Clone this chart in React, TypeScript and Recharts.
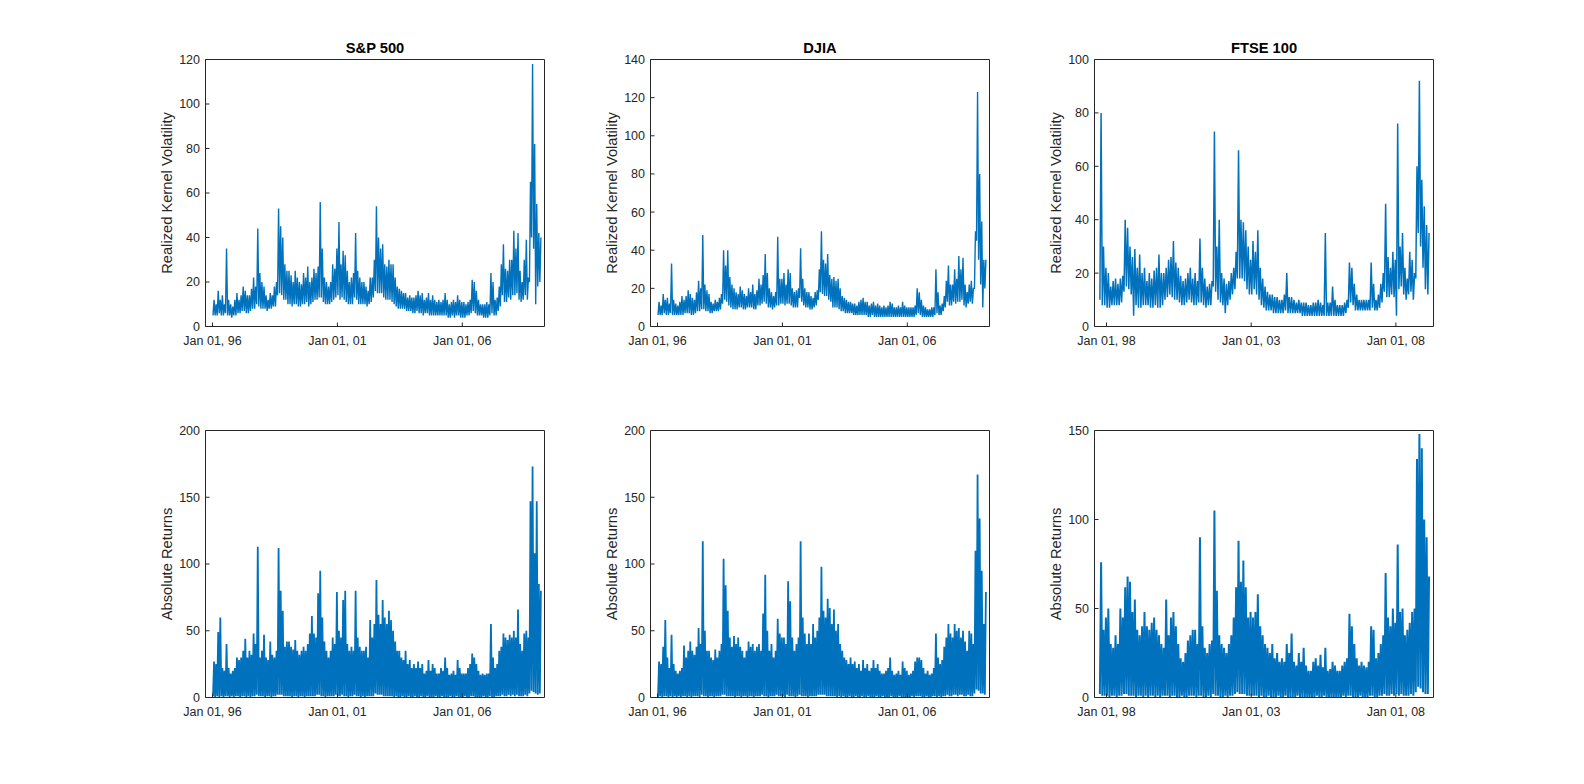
import React from 'react'
import { LineChart, Line, XAxis, YAxis } from 'recharts'

// Monthly readings off the figure: "HI" is the top of the trace in that month,
// "LO" the bottom of the band. Drawn as a lo/hi zig-zag to mimic the daily noise.

// ---- S&P 500, Jan 1996 .. Feb 2009 ----
const SP_RK_HI = [
    12, 10, 16, 12, 14, 10, 35, 12, 10, 9, 12, 15,
    12, 14, 18, 16, 14, 14, 17, 22, 18, 44, 24, 20,
    18, 14, 12, 15, 14, 18, 20, 53, 45, 40, 28, 25,
    25, 23, 20, 25, 22, 20, 19, 24, 22, 27, 20, 22,
    26, 24, 27, 56, 35, 22, 20, 18, 20, 28, 26, 35,
    47, 28, 34, 32, 25, 20, 22, 24, 42, 25, 22, 20,
    20, 18, 16, 22, 22, 30, 54, 40, 35, 37, 28, 27,
    30, 28, 28, 22, 18, 17, 16, 15, 15, 13, 14, 13,
    13, 14, 16, 14, 15, 12, 13, 15, 12, 14, 12, 11,
    12, 11, 12, 15, 12, 10, 11, 12, 11, 14, 12, 11,
    11, 10, 11, 12, 21, 20, 16, 12, 10, 10, 10, 11,
    10, 24, 20, 12, 13, 18, 28, 37, 26, 25, 30, 30,
    43, 35, 42, 25, 20, 30, 39, 22, 65, 118, 82, 55,
    42, 40,
]
const SP_RK_LO = [
    5, 5, 5, 6, 5, 5, 6, 5, 5, 4, 5, 5,
    6, 6, 7, 7, 6, 6, 7, 8, 8, 10, 9, 8,
    8, 8, 7, 8, 8, 9, 9, 14, 15, 14, 12, 12,
    10, 10, 9, 10, 10, 9, 9, 10, 10, 11, 9, 10,
    11, 12, 12, 13, 13, 11, 10, 10, 10, 11, 12, 13,
    14, 12, 13, 12, 11, 10, 10, 10, 13, 12, 10, 10,
    10, 10, 9, 10, 11, 13, 16, 15, 15, 15, 13, 12,
    12, 12, 11, 10, 9, 8, 8, 8, 8, 7, 7, 7,
    6, 6, 7, 6, 6, 5, 6, 6, 5, 5, 5, 5,
    5, 5, 5, 5, 5, 4, 4, 5, 4, 5, 5, 4,
    4, 4, 5, 5, 6, 7, 6, 5, 5, 5, 4, 4,
    4, 5, 6, 5, 5, 7, 9, 14, 11, 11, 13, 12,
    14, 14, 15, 12, 11, 12, 14, 12, 20, 40, 35, 10,
    18, 20,
]
const SP_AR_HI = [
    27, 25, 49, 60, 22, 20, 40, 22, 18, 20, 22, 30,
    28, 30, 35, 44, 30, 35, 32, 48, 40, 113, 30, 35,
    47, 30, 28, 42, 32, 30, 35, 112, 80, 65, 38, 42,
    42, 38, 36, 43, 35, 32, 35, 38, 35, 40, 48, 61,
    48, 45, 78, 95, 60, 42, 35, 30, 35, 45, 40, 79,
    50, 45, 73, 80, 40, 35, 38, 35, 80, 45, 38, 35,
    35, 38, 30, 58, 45, 55, 88, 62, 55, 73, 60, 55,
    65, 58, 50, 42, 35, 35, 30, 28, 35, 25, 28, 22,
    25, 22, 27, 22, 25, 18, 20, 28, 20, 25, 22, 18,
    18, 22, 20, 30, 22, 17, 18, 20, 17, 28, 22, 18,
    18, 18, 22, 25, 33, 30, 25, 20, 17, 18, 17, 18,
    18, 55, 30, 22, 25, 35, 38, 48, 45, 43, 47, 45,
    50, 45, 66, 40, 35, 48, 50, 45, 147, 173, 108, 147,
    85, 80,
]
const SP_AR_LO = [
    1, 0, 1, 0, 1, 0, 1, 1, 0, 1, 0, 1,
    1, 0, 1, 1, 0, 1, 0, 1, 1, 2, 1, 1,
    1, 0, 1, 1, 0, 1, 1, 2, 2, 2, 1, 1,
    1, 1, 0, 1, 1, 0, 1, 1, 0, 1, 1, 1,
    1, 1, 2, 2, 1, 1, 0, 1, 1, 1, 1, 2,
    1, 1, 2, 1, 1, 0, 1, 1, 2, 1, 1, 0,
    1, 0, 1, 1, 1, 1, 3, 2, 2, 2, 1, 1,
    1, 1, 1, 0, 1, 0, 0, 1, 0, 0, 1, 0,
    0, 1, 0, 0, 1, 0, 0, 1, 0, 0, 0, 1,
    0, 0, 1, 0, 0, 0, 1, 0, 0, 1, 0, 0,
    0, 1, 0, 0, 1, 1, 0, 0, 0, 0, 1, 0,
    0, 1, 0, 0, 1, 1, 1, 2, 1, 1, 2, 1,
    2, 1, 2, 1, 1, 1, 2, 1, 3, 5, 4, 3,
    2, 3,
]

// ---- DJIA, Jan 1996 .. Feb 2009 ----
const DJ_RK_HI = [
    13, 11, 17, 14, 15, 12, 33, 14, 12, 11, 13, 16,
    14, 16, 19, 17, 15, 14, 18, 24, 20, 48, 22, 19,
    17, 13, 12, 14, 13, 15, 17, 40, 32, 40, 26, 22,
    20, 18, 17, 21, 19, 17, 16, 20, 18, 22, 17, 19,
    25, 22, 27, 38, 28, 20, 18, 16, 18, 47, 25, 25,
    28, 22, 30, 28, 20, 18, 19, 20, 41, 25, 20, 18,
    18, 16, 15, 18, 19, 30, 50, 35, 33, 38, 27, 25,
    26, 24, 25, 20, 16, 15, 14, 13, 13, 12, 12, 11,
    13, 14, 15, 13, 13, 11, 12, 13, 11, 12, 11, 10,
    11, 10, 11, 13, 12, 10, 10, 11, 10, 13, 11, 10,
    10, 10, 10, 11, 20, 18, 14, 11, 10, 9, 9, 10,
    10, 30, 18, 11, 12, 16, 24, 32, 22, 22, 30, 25,
    37, 30, 36, 22, 18, 22, 24, 20, 50, 123, 80, 55,
    35, 35,
]
const DJ_RK_LO = [
    6, 6, 6, 7, 6, 6, 7, 6, 6, 6, 6, 6,
    6, 7, 7, 7, 6, 6, 7, 8, 8, 9, 9, 8,
    8, 7, 7, 8, 8, 8, 9, 12, 14, 13, 11, 10,
    9, 9, 9, 10, 10, 9, 9, 10, 10, 10, 9, 9,
    11, 11, 12, 13, 12, 10, 10, 9, 10, 11, 11, 12,
    12, 11, 12, 12, 11, 10, 10, 10, 15, 13, 11, 10,
    10, 9, 9, 10, 11, 14, 18, 17, 16, 16, 14, 13,
    10, 10, 10, 9, 8, 8, 7, 7, 7, 7, 6, 6,
    6, 6, 6, 6, 6, 5, 5, 6, 5, 5, 5, 5,
    5, 5, 5, 5, 5, 5, 5, 5, 5, 5, 5, 5,
    5, 5, 5, 5, 6, 7, 6, 5, 5, 5, 5, 5,
    5, 6, 7, 6, 6, 8, 10, 13, 11, 11, 13, 12,
    13, 13, 14, 11, 10, 12, 13, 12, 20, 45, 35, 22,
    10, 20,
]
const DJ_AR_HI = [
    27, 25, 38, 58, 30, 22, 47, 25, 20, 18, 20, 22,
    39, 30, 35, 42, 35, 32, 38, 52, 40, 117, 50, 35,
    35, 30, 28, 36, 30, 35, 40, 104, 84, 65, 45, 38,
    46, 40, 45, 38, 35, 30, 35, 42, 38, 40, 35, 38,
    40, 35, 63, 92, 50, 35, 40, 30, 35, 59, 48, 45,
    45, 40, 87, 72, 45, 35, 40, 45, 117, 60, 48, 40,
    48, 40, 55, 45, 50, 60, 98, 65, 60, 74, 67, 55,
    66, 50, 55, 40, 35, 30, 28, 25, 30, 25, 27, 22,
    25, 20, 28, 22, 25, 20, 22, 28, 22, 25, 20, 18,
    18, 20, 22, 30, 20, 17, 18, 20, 17, 27, 22, 20,
    17, 18, 20, 27, 30, 30, 28, 22, 18, 20, 17, 18,
    22, 48, 30, 25, 28, 38, 45, 55, 48, 45, 55, 50,
    52, 45, 50, 42, 35, 50, 48, 40, 110, 167, 134, 95,
    55, 79,
]
const DJ_AR_LO = [
    0, 1, 0, 1, 1, 0, 1, 0, 1, 0, 1, 0,
    1, 1, 0, 1, 0, 1, 1, 1, 0, 2, 1, 1,
    0, 1, 1, 0, 1, 1, 1, 2, 2, 1, 1, 1,
    1, 0, 1, 1, 0, 1, 1, 0, 1, 1, 0, 1,
    1, 1, 2, 1, 1, 0, 1, 1, 1, 2, 1, 1,
    1, 0, 2, 1, 1, 1, 0, 1, 2, 1, 1, 1,
    0, 1, 1, 1, 1, 2, 2, 2, 2, 1, 1, 1,
    1, 1, 0, 1, 0, 1, 0, 0, 1, 0, 0, 1,
    0, 0, 1, 0, 0, 1, 0, 0, 0, 1, 0, 0,
    1, 0, 0, 0, 1, 0, 0, 0, 1, 0, 0, 0,
    0, 0, 1, 0, 1, 1, 1, 0, 0, 1, 0, 0,
    1, 1, 0, 1, 0, 1, 1, 2, 1, 1, 2, 2,
    1, 2, 2, 1, 1, 2, 1, 1, 3, 6, 5, 3,
    3, 2,
]

// ---- FTSE 100, Oct 1997 .. Feb 2009 ----
const FT_RK_HI = [
    80, 30, 22,
    20, 15, 17, 18, 16, 18, 19, 40, 37, 30, 26, 29,
    22, 27, 20, 22, 17, 20, 18, 21, 22, 27, 20, 20,
    22, 25, 26, 32, 24, 22, 19, 17, 18, 20, 22, 18,
    20, 17, 33, 22, 18, 15, 16, 17, 73, 30, 40, 20,
    18, 16, 17, 20, 22, 28, 66, 40, 39, 36, 30, 25,
    32, 28, 36, 22, 18, 15, 13, 12, 12, 11, 11, 10,
    10, 12, 20, 11, 11, 10, 9, 10, 9, 9, 9, 8,
    8, 9, 9, 10, 9, 8, 35, 9, 9, 15, 10, 8,
    8, 8, 9, 10, 24, 22, 16, 12, 10, 10, 10, 10,
    10, 24, 16, 10, 12, 16, 20, 46, 26, 22, 28, 25,
    76, 30, 35, 22, 18, 28, 25, 20, 60, 92, 55, 45,
    38, 35,
]
const FT_RK_LO = [
    10, 8, 8,
    7, 7, 8, 8, 8, 8, 9, 13, 15, 14, 12, 4,
    8, 7, 7, 8, 8, 8, 7, 7, 8, 7, 7, 8,
    10, 11, 12, 11, 10, 10, 9, 8, 8, 9, 10, 9,
    8, 8, 9, 9, 8, 7, 8, 8, 15, 13, 10, 9,
    8, 5, 8, 10, 12, 14, 18, 18, 18, 17, 14, 12,
    12, 14, 12, 10, 8, 7, 6, 6, 6, 5, 5, 5,
    5, 5, 6, 5, 5, 5, 5, 5, 5, 4, 4, 4,
    4, 4, 4, 4, 4, 4, 4, 4, 4, 4, 4, 4,
    4, 4, 4, 5, 7, 9, 8, 6, 6, 6, 6, 6,
    6, 6, 7, 6, 6, 7, 9, 13, 11, 11, 12, 11,
    4, 14, 15, 12, 10, 12, 13, 10, 18, 35, 30, 22,
    14, 12,
]
const FT_AR_HI = [
    76, 38, 45,
    50, 30, 28, 35, 30, 50, 45, 62, 68, 65, 48, 55,
    38, 35, 40, 48, 40, 38, 42, 45, 38, 35, 30, 28,
    55, 35, 45, 48, 40, 30, 22, 20, 25, 32, 35, 38,
    38, 30, 90, 40, 28, 25, 30, 32, 105, 60, 35, 30,
    28, 25, 30, 35, 45, 62, 88, 65, 77, 62, 45, 48,
    45, 48, 58, 40, 35, 30, 28, 25, 30, 22, 25, 20,
    22, 20, 30, 25, 36, 20, 18, 25, 20, 28, 18, 15,
    15, 20, 22, 18, 24, 17, 28, 15, 16, 20, 18, 15,
    15, 18, 20, 22, 47, 40, 30, 22, 18, 20, 18, 17,
    20, 40, 38, 22, 25, 30, 35, 70, 45, 40, 50, 42,
    86, 48, 50, 35, 38, 42, 48, 50, 134, 148, 140, 100,
    90, 68,
]
const FT_AR_LO = [
    2, 1, 1,
    1, 0, 1, 1, 0, 1, 1, 2, 2, 1, 1, 1,
    0, 1, 1, 0, 1, 0, 1, 1, 0, 1, 0, 1,
    1, 1, 0, 1, 1, 0, 0, 1, 0, 0, 1, 1,
    1, 0, 1, 1, 0, 0, 1, 0, 2, 1, 1, 0,
    0, 1, 0, 1, 1, 2, 3, 2, 2, 2, 1, 1,
    1, 1, 1, 0, 1, 0, 0, 1, 0, 0, 0, 1,
    0, 0, 1, 0, 0, 0, 0, 1, 0, 0, 0, 0,
    0, 0, 0, 1, 0, 0, 1, 0, 0, 0, 0, 0,
    0, 0, 1, 0, 1, 1, 0, 0, 0, 1, 0, 0,
    0, 1, 1, 0, 0, 1, 1, 2, 1, 1, 2, 1,
    2, 1, 2, 1, 1, 1, 2, 1, 3, 6, 5, 3,
    2, 2,
]

const US_TICKS = [1996, 2001, 2006]
const UK_TICKS = [1998, 2003, 2008]
const US_DOMAIN: [number, number] = [1995.72, 2009.29]
const UK_DOMAIN: [number, number] = [1997.585, 2009.3]

const LINE = '#0072BD'
const AXIS = '#262626'
const FONT = '"Liberation Sans", Arial, Helvetica, sans-serif'

const PLOT_W = 339
const PLOT_H = 267
const PAD_L = 70.5
const PAD_T = 40.5

type Row = { t: number; v: number }

// month i of the series -> one low point then one high point inside that month
function zigzag(startYear: number, startMonth: number, lo: number[], hi: number[]): Row[] {
    const rows: Row[] = []
    hi.forEach((h, i) => {
        const base = startYear + (startMonth + i) / 12
        rows.push({ t: base + 0.25 / 12, v: lo[i] })
        rows.push({ t: base + 0.75 / 12, v: h })
    })
    return rows
}

const fmtDate = (t: number) => `Jan 01, ${String(Math.round(t)).slice(2)}`

interface PanelProps {
    left: number
    top: number
    title?: string
    yLabel: string
    data: Row[]
    xDomain: [number, number]
    xTicks: number[]
    yMax: number
    yStep: number
    lineWidth: number
}

function Panel({ left, top, title, yLabel, data, xDomain, xTicks, yMax, yStep, lineWidth }: PanelProps) {
    const yTicks: number[] = []
    for (let v = 0; v <= yMax; v += yStep) yTicks.push(v)
    const tickFont = { fill: AXIS, fontSize: 12.5, fontFamily: FONT }
    const cy = PAD_T + PLOT_H / 2
    const lx = PAD_L - 34

    return (
        <div style={{ position: 'absolute', left: left - PAD_L, top: top - PAD_T }}>
            <LineChart
                width={430}
                height={340}
                data={data}
                margin={{ top: PAD_T - 1, right: 19.5, bottom: 2.5, left: 0.5 }}
            >
                <XAxis
                    xAxisId="b"
                    dataKey="t"
                    type="number"
                    domain={xDomain}
                    allowDataOverflow
                    ticks={xTicks}
                    interval={0}
                    tickFormatter={fmtDate}
                    height={30}
                    tickSize={-4}
                    tickMargin={14}
                    stroke={AXIS}
                    tick={tickFont}
                />
                <XAxis
                    xAxisId="t"
                    orientation="top"
                    dataKey="t"
                    type="number"
                    domain={xDomain}
                    allowDataOverflow
                    ticks={xTicks}
                    interval={0}
                    height={1}
                    tickSize={-4}
                    tick={false}
                    stroke={AXIS}
                />
                <YAxis
                    yAxisId="l"
                    type="number"
                    domain={[0, yMax]}
                    allowDataOverflow
                    ticks={yTicks}
                    interval={0}
                    width={70}
                    tickSize={-4}
                    tickMargin={9.5}
                    stroke={AXIS}
                    tick={tickFont}
                />
                <YAxis
                    yAxisId="r"
                    orientation="right"
                    type="number"
                    domain={[0, yMax]}
                    allowDataOverflow
                    ticks={yTicks}
                    interval={0}
                    width={1}
                    tickSize={-4}
                    tick={false}
                    stroke={AXIS}
                />
                <Line
                    xAxisId="b"
                    yAxisId="l"
                    dataKey="v"
                    type="linear"
                    stroke={LINE}
                    strokeWidth={lineWidth}
                    dot={false}
                    activeDot={false}
                    isAnimationActive={false}
                />
                {title && (
                    <text
                        x={PAD_L + PLOT_W / 2}
                        y={PAD_T - 7}
                        textAnchor="middle"
                        fontFamily={FONT}
                        fontWeight="bold"
                        fontSize={14.7}
                        fill="#000"
                    >
                        {title}
                    </text>
                )}
                <text
                    x={lx}
                    y={cy}
                    transform={`rotate(-90, ${lx}, ${cy})`}
                    textAnchor="middle"
                    fontFamily={FONT}
                    fontSize={14.7}
                    fill={AXIS}
                >
                    {yLabel}
                </text>
            </LineChart>
        </div>
    )
}

const COLS = [205.5, 650.5, 1094.5]
const ROWS = [59.5, 430.5]

export default function App() {
    const spRk = zigzag(1996, 0, SP_RK_LO, SP_RK_HI)
    const djRk = zigzag(1996, 0, DJ_RK_LO, DJ_RK_HI)
    const ftRk = zigzag(1997, 9, FT_RK_LO, FT_RK_HI)
    const spAr = zigzag(1996, 0, SP_AR_LO, SP_AR_HI)
    const djAr = zigzag(1996, 0, DJ_AR_LO, DJ_AR_HI)
    const ftAr = zigzag(1997, 9, FT_AR_LO, FT_AR_HI)

    return (
        <div style={{ position: 'absolute', left: 0, top: 0, width: 1584, height: 784, background: '#fff', fontFamily: FONT }}>
            <Panel left={COLS[0]} top={ROWS[0]} title="S&P 500" yLabel="Realized Kernel Volatility"
                data={spRk} xDomain={US_DOMAIN} xTicks={US_TICKS} yMax={120} yStep={20} lineWidth={1.4} />
            <Panel left={COLS[1]} top={ROWS[0]} title="DJIA" yLabel="Realized Kernel Volatility"
                data={djRk} xDomain={US_DOMAIN} xTicks={US_TICKS} yMax={140} yStep={20} lineWidth={1.4} />
            <Panel left={COLS[2]} top={ROWS[0]} title="FTSE 100" yLabel="Realized Kernel Volatility"
                data={ftRk} xDomain={UK_DOMAIN} xTicks={UK_TICKS} yMax={100} yStep={20} lineWidth={1.5} />
            <Panel left={COLS[0]} top={ROWS[1]} yLabel="Absolute Returns"
                data={spAr} xDomain={US_DOMAIN} xTicks={US_TICKS} yMax={200} yStep={50} lineWidth={1.8} />
            <Panel left={COLS[1]} top={ROWS[1]} yLabel="Absolute Returns"
                data={djAr} xDomain={US_DOMAIN} xTicks={US_TICKS} yMax={200} yStep={50} lineWidth={1.8} />
            <Panel left={COLS[2]} top={ROWS[1]} yLabel="Absolute Returns"
                data={ftAr} xDomain={UK_DOMAIN} xTicks={UK_TICKS} yMax={150} yStep={50} lineWidth={2} />
        </div>
    )
}
